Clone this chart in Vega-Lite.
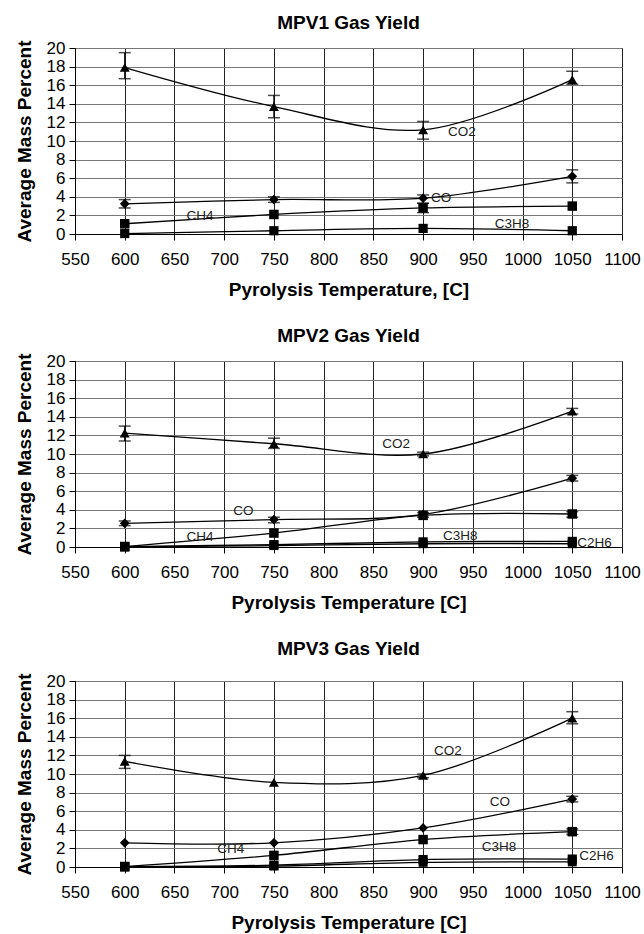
{
  "$schema": "https://vega.github.io/schema/vega-lite/v6.json",
  "padding": {"left": 14, "top": 13, "right": 0, "bottom": 0},
  "background": "white",
  "datasets": {
    "gas": [
      {"p": "MPV1", "gas": "CO2", "t": 600, "v": 17.9, "lo": 16.7, "hi": 19.5},
      {"p": "MPV1", "gas": "CO2", "t": 750, "v": 13.7, "lo": 12.5, "hi": 14.9},
      {"p": "MPV1", "gas": "CO2", "t": 900, "v": 11.2, "lo": 10.2, "hi": 12.1},
      {"p": "MPV1", "gas": "CO2", "t": 1050, "v": 16.6, "lo": 16.1, "hi": 17.5},
      {"p": "MPV1", "gas": "CO", "t": 600, "v": 3.25, "lo": 2.8, "hi": 3.7},
      {"p": "MPV1", "gas": "CO", "t": 750, "v": 3.7, "lo": 3.4, "hi": 4.0},
      {"p": "MPV1", "gas": "CO", "t": 900, "v": 3.85, "lo": 3.3, "hi": 4.2},
      {"p": "MPV1", "gas": "CO", "t": 1050, "v": 6.2, "lo": 5.5, "hi": 6.9},
      {"p": "MPV1", "gas": "CH4", "t": 600, "v": 1.1},
      {"p": "MPV1", "gas": "CH4", "t": 750, "v": 2.1},
      {"p": "MPV1", "gas": "CH4", "t": 900, "v": 2.8, "lo": 2.3, "hi": 3.3},
      {"p": "MPV1", "gas": "CH4", "t": 1050, "v": 3.0},
      {"p": "MPV1", "gas": "C3H8", "t": 600, "v": 0.05},
      {"p": "MPV1", "gas": "C3H8", "t": 750, "v": 0.35},
      {"p": "MPV1", "gas": "C3H8", "t": 900, "v": 0.6},
      {"p": "MPV1", "gas": "C3H8", "t": 1050, "v": 0.35},
      {"p": "MPV2", "gas": "CO2", "t": 600, "v": 12.25, "lo": 11.4, "hi": 13.0},
      {"p": "MPV2", "gas": "CO2", "t": 750, "v": 11.1, "lo": 10.6, "hi": 11.7},
      {"p": "MPV2", "gas": "CO2", "t": 900, "v": 10.0, "lo": 9.8, "hi": 10.2},
      {"p": "MPV2", "gas": "CO2", "t": 1050, "v": 14.6, "lo": 14.3, "hi": 14.9},
      {"p": "MPV2", "gas": "CO", "t": 600, "v": 2.55, "lo": 2.3, "hi": 2.8},
      {"p": "MPV2", "gas": "CO", "t": 750, "v": 2.95, "lo": 2.6, "hi": 3.2},
      {"p": "MPV2", "gas": "CO", "t": 900, "v": 3.5},
      {"p": "MPV2", "gas": "CO", "t": 1050, "v": 7.4, "lo": 7.1, "hi": 7.7},
      {"p": "MPV2", "gas": "CH4", "t": 600, "v": 0.05},
      {"p": "MPV2", "gas": "CH4", "t": 750, "v": 1.5},
      {"p": "MPV2", "gas": "CH4", "t": 900, "v": 3.4, "lo": 3.2, "hi": 3.7},
      {"p": "MPV2", "gas": "CH4", "t": 1050, "v": 3.55, "lo": 3.2, "hi": 3.8},
      {"p": "MPV2", "gas": "C3H8", "t": 600, "v": 0.05},
      {"p": "MPV2", "gas": "C3H8", "t": 750, "v": 0.25},
      {"p": "MPV2", "gas": "C3H8", "t": 900, "v": 0.55},
      {"p": "MPV2", "gas": "C3H8", "t": 1050, "v": 0.6},
      {"p": "MPV2", "gas": "C2H6", "t": 600, "v": 0.0},
      {"p": "MPV2", "gas": "C2H6", "t": 750, "v": 0.15},
      {"p": "MPV2", "gas": "C2H6", "t": 900, "v": 0.35},
      {"p": "MPV2", "gas": "C2H6", "t": 1050, "v": 0.35},
      {"p": "MPV3", "gas": "CO2", "t": 600, "v": 11.35, "lo": 10.6, "hi": 12.0},
      {"p": "MPV3", "gas": "CO2", "t": 750, "v": 9.1},
      {"p": "MPV3", "gas": "CO2", "t": 900, "v": 9.85, "lo": 9.6, "hi": 10.0},
      {"p": "MPV3", "gas": "CO2", "t": 1050, "v": 16.0, "lo": 15.4, "hi": 16.7},
      {"p": "MPV3", "gas": "CO", "t": 600, "v": 2.6},
      {"p": "MPV3", "gas": "CO", "t": 750, "v": 2.6},
      {"p": "MPV3", "gas": "CO", "t": 900, "v": 4.2},
      {"p": "MPV3", "gas": "CO", "t": 1050, "v": 7.3, "lo": 7.0, "hi": 7.6},
      {"p": "MPV3", "gas": "CH4", "t": 600, "v": 0.05},
      {"p": "MPV3", "gas": "CH4", "t": 750, "v": 1.25},
      {"p": "MPV3", "gas": "CH4", "t": 900, "v": 2.95},
      {"p": "MPV3", "gas": "CH4", "t": 1050, "v": 3.8, "lo": 3.5, "hi": 4.1},
      {"p": "MPV3", "gas": "C3H8", "t": 600, "v": 0.05},
      {"p": "MPV3", "gas": "C3H8", "t": 750, "v": 0.2},
      {"p": "MPV3", "gas": "C3H8", "t": 900, "v": 0.8},
      {"p": "MPV3", "gas": "C3H8", "t": 1050, "v": 0.85},
      {"p": "MPV3", "gas": "C2H6", "t": 600, "v": 0.0},
      {"p": "MPV3", "gas": "C2H6", "t": 750, "v": 0.1},
      {"p": "MPV3", "gas": "C2H6", "t": 900, "v": 0.5},
      {"p": "MPV3", "gas": "C2H6", "t": 1050, "v": 0.55}
    ],
    "labels": [
      {"p": "MPV1", "text": "CO2", "t": 925, "v": 11.0},
      {"p": "MPV1", "text": "CO", "t": 908, "v": 3.9},
      {"p": "MPV1", "text": "CH4", "t": 662, "v": 1.9},
      {"p": "MPV1", "text": "C3H8", "t": 972, "v": 1.05},
      {"p": "MPV2", "text": "CO2", "t": 859, "v": 11.1},
      {"p": "MPV2", "text": "CO", "t": 709, "v": 3.9},
      {"p": "MPV2", "text": "CH4", "t": 662, "v": 1.05},
      {"p": "MPV2", "text": "C3H8", "t": 920, "v": 1.15},
      {"p": "MPV2", "text": "C2H6", "t": 1055, "v": 0.4},
      {"p": "MPV3", "text": "CO2", "t": 911, "v": 12.5},
      {"p": "MPV3", "text": "CO", "t": 967, "v": 7.0},
      {"p": "MPV3", "text": "CH4", "t": 693, "v": 1.95},
      {"p": "MPV3", "text": "C3H8", "t": 959, "v": 2.1},
      {"p": "MPV3", "text": "C2H6", "t": 1057, "v": 1.15}
    ]
  },
  "vconcat": [
    {
      "title": {"text": "MPV1 Gas Yield", "offset": 6},
      "width": 547,
      "height": 186,
      "encoding": {
        "x": {"field": "t", "type": "quantitative", "scale": {"domain": [550, 1100], "nice": false, "zero": false},
              "axis": {"title": "Pyrolysis Temperature, [C]", "format": "d", "values": [550, 600, 650, 700, 750, 800, 850, 900, 950, 1000, 1050, 1100]}},
        "y": {"field": "v", "type": "quantitative", "scale": {"domain": [0, 20], "nice": false},
              "axis": {"title": "Average Mass Percent", "values": [0, 2, 4, 6, 8, 10, 12, 14, 16, 18, 20]}}
      },
      "layer": [
        {"data": {"name": "gas"}, "transform": [{"filter": "datum.p === 'MPV1' && datum.lo != null"}],
         "mark": {"type": "rule", "color": "black", "strokeWidth": 1.2},
         "encoding": {"y": {"field": "lo", "type": "quantitative"}, "y2": {"field": "hi"}}},
        {"data": {"name": "gas"}, "transform": [{"filter": "datum.p === 'MPV1' && datum.lo != null"}],
         "mark": {"type": "tick", "orient": "horizontal", "color": "black", "size": 12, "thickness": 1.5},
         "encoding": {"y": {"field": "lo", "type": "quantitative"}}},
        {"data": {"name": "gas"}, "transform": [{"filter": "datum.p === 'MPV1' && datum.lo != null"}],
         "mark": {"type": "tick", "orient": "horizontal", "color": "black", "size": 12, "thickness": 1.5},
         "encoding": {"y": {"field": "hi", "type": "quantitative"}}},
        {"data": {"name": "gas"}, "transform": [{"filter": "datum.p === 'MPV1'"}],
         "mark": {"type": "line", "color": "black", "strokeWidth": 1.3, "interpolate": "catmull-rom"},
         "encoding": {"detail": {"field": "gas"}, "order": {"field": "t", "type": "quantitative"}}},
        {"data": {"name": "gas"}, "transform": [{"filter": "datum.p === 'MPV1'"}],
         "mark": {"type": "point", "filled": true, "color": "black", "opacity": 1},
         "encoding": {
           "shape": {"field": "gas", "type": "nominal", "scale": {"domain": ["CO2", "CO", "CH4", "C3H8", "C2H6"], "range": ["triangle-up", "diamond", "square", "square", "square"]}, "legend": null},
           "size": {"field": "gas", "type": "nominal", "scale": {"domain": ["CO2", "CO", "CH4", "C3H8", "C2H6"], "range": [100, 80, 55, 190, 190]}, "legend": null}}},
        {"data": {"name": "labels"}, "transform": [{"filter": "datum.p === 'MPV1'"}],
         "mark": {"type": "text", "align": "left", "baseline": "middle", "fontSize": 13.5, "color": "#222"},
         "encoding": {"text": {"field": "text"}}}
      ]
    },
    {
      "title": {"text": "MPV2 Gas Yield", "offset": 6},
      "width": 547,
      "height": 186,
      "encoding": {
        "x": {"field": "t", "type": "quantitative", "scale": {"domain": [550, 1100], "nice": false, "zero": false},
              "axis": {"title": "Pyrolysis Temperature [C]", "format": "d", "values": [550, 600, 650, 700, 750, 800, 850, 900, 950, 1000, 1050, 1100]}},
        "y": {"field": "v", "type": "quantitative", "scale": {"domain": [0, 20], "nice": false},
              "axis": {"title": "Average Mass Percent", "values": [0, 2, 4, 6, 8, 10, 12, 14, 16, 18, 20]}}
      },
      "layer": [
        {"data": {"name": "gas"}, "transform": [{"filter": "datum.p === 'MPV2' && datum.lo != null"}],
         "mark": {"type": "rule", "color": "black", "strokeWidth": 1.2},
         "encoding": {"y": {"field": "lo", "type": "quantitative"}, "y2": {"field": "hi"}}},
        {"data": {"name": "gas"}, "transform": [{"filter": "datum.p === 'MPV2' && datum.lo != null"}],
         "mark": {"type": "tick", "orient": "horizontal", "color": "black", "size": 12, "thickness": 1.5},
         "encoding": {"y": {"field": "lo", "type": "quantitative"}}},
        {"data": {"name": "gas"}, "transform": [{"filter": "datum.p === 'MPV2' && datum.lo != null"}],
         "mark": {"type": "tick", "orient": "horizontal", "color": "black", "size": 12, "thickness": 1.5},
         "encoding": {"y": {"field": "hi", "type": "quantitative"}}},
        {"data": {"name": "gas"}, "transform": [{"filter": "datum.p === 'MPV2'"}],
         "mark": {"type": "line", "color": "black", "strokeWidth": 1.3, "interpolate": "catmull-rom"},
         "encoding": {"detail": {"field": "gas"}, "order": {"field": "t", "type": "quantitative"}}},
        {"data": {"name": "gas"}, "transform": [{"filter": "datum.p === 'MPV2'"}],
         "mark": {"type": "point", "filled": true, "color": "black", "opacity": 1},
         "encoding": {
           "shape": {"field": "gas", "type": "nominal", "scale": {"domain": ["CO2", "CO", "CH4", "C3H8", "C2H6"], "range": ["triangle-up", "diamond", "square", "square", "square"]}, "legend": null},
           "size": {"field": "gas", "type": "nominal", "scale": {"domain": ["CO2", "CO", "CH4", "C3H8", "C2H6"], "range": [100, 80, 55, 190, 190]}, "legend": null}}},
        {"data": {"name": "labels"}, "transform": [{"filter": "datum.p === 'MPV2'"}],
         "mark": {"type": "text", "align": "left", "baseline": "middle", "fontSize": 13.5, "color": "#222"},
         "encoding": {"text": {"field": "text"}}}
      ]
    },
    {
      "title": {"text": "MPV3 Gas Yield", "offset": 13},
      "width": 547,
      "height": 186,
      "encoding": {
        "x": {"field": "t", "type": "quantitative", "scale": {"domain": [550, 1100], "nice": false, "zero": false},
              "axis": {"title": "Pyrolysis Temperature [C]", "format": "d", "values": [550, 600, 650, 700, 750, 800, 850, 900, 950, 1000, 1050, 1100]}},
        "y": {"field": "v", "type": "quantitative", "scale": {"domain": [0, 20], "nice": false},
              "axis": {"title": "Average Mass Percent", "values": [0, 2, 4, 6, 8, 10, 12, 14, 16, 18, 20]}}
      },
      "layer": [
        {"data": {"name": "gas"}, "transform": [{"filter": "datum.p === 'MPV3' && datum.lo != null"}],
         "mark": {"type": "rule", "color": "black", "strokeWidth": 1.2},
         "encoding": {"y": {"field": "lo", "type": "quantitative"}, "y2": {"field": "hi"}}},
        {"data": {"name": "gas"}, "transform": [{"filter": "datum.p === 'MPV3' && datum.lo != null"}],
         "mark": {"type": "tick", "orient": "horizontal", "color": "black", "size": 12, "thickness": 1.5},
         "encoding": {"y": {"field": "lo", "type": "quantitative"}}},
        {"data": {"name": "gas"}, "transform": [{"filter": "datum.p === 'MPV3' && datum.lo != null"}],
         "mark": {"type": "tick", "orient": "horizontal", "color": "black", "size": 12, "thickness": 1.5},
         "encoding": {"y": {"field": "hi", "type": "quantitative"}}},
        {"data": {"name": "gas"}, "transform": [{"filter": "datum.p === 'MPV3'"}],
         "mark": {"type": "line", "color": "black", "strokeWidth": 1.3, "interpolate": "catmull-rom"},
         "encoding": {"detail": {"field": "gas"}, "order": {"field": "t", "type": "quantitative"}}},
        {"data": {"name": "gas"}, "transform": [{"filter": "datum.p === 'MPV3'"}],
         "mark": {"type": "point", "filled": true, "color": "black", "opacity": 1},
         "encoding": {
           "shape": {"field": "gas", "type": "nominal", "scale": {"domain": ["CO2", "CO", "CH4", "C3H8", "C2H6"], "range": ["triangle-up", "diamond", "square", "square", "square"]}, "legend": null},
           "size": {"field": "gas", "type": "nominal", "scale": {"domain": ["CO2", "CO", "CH4", "C3H8", "C2H6"], "range": [100, 80, 55, 190, 190]}, "legend": null}}},
        {"data": {"name": "labels"}, "transform": [{"filter": "datum.p === 'MPV3'"}],
         "mark": {"type": "text", "align": "left", "baseline": "middle", "fontSize": 13.5, "color": "#222"},
         "encoding": {"text": {"field": "text"}}}
      ]
    }
  ],
  "config": {
    "font": "Liberation Sans",
    "view": {"stroke": "black", "strokeWidth": 1},
    "concat": {"spacing": 26},
    "title": {"font": "Liberation Sans", "fontSize": 19, "fontWeight": "bold", "color": "black", "anchor": "middle"},
    "axis": {
      "labelFont": "Liberation Sans", "labelFontSize": 17, "labelColor": "black",
      "titleFont": "Liberation Sans", "titleFontSize": 19, "titleFontWeight": "bold", "titleColor": "black",
      "domainColor": "black", "domainWidth": 1, "tickColor": "black", "tickSize": 6, "tickWidth": 1,
      "gridOpacity": 1, "gridWidth": 1
    },
    "axisX": {"gridColor": "#222", "labelPadding": 11, "titlePadding": 13, "labelFlush": false},
    "axisY": {"gridColor": "#777", "labelPadding": 4, "titlePadding": 12}
  }
}
